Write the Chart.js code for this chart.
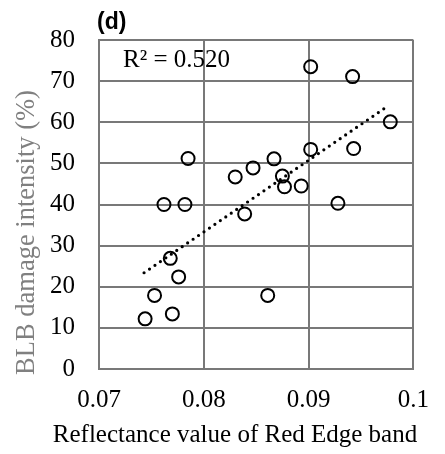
<!DOCTYPE html>
<html>
<head>
<meta charset="utf-8">
<script src="https://cdn.jsdelivr.net/npm/chart.js@4/dist/chart.umd.min.js"></script>
<style>
  html, body { margin: 0; padding: 0; background: #ffffff; }
  #wrap { width: 445px; height: 454px; }
</style>
</head>
<body>
<div id="wrap"><canvas id="c" width="445" height="454"></canvas></div>
<script>
// ---- data ----
const reflectance = [0.0744, 0.0753, 0.0770, 0.0776, 0.0768, 0.0762, 0.0782, 0.0785, 0.0830, 0.0839, 0.0847,
                     0.0861, 0.0867, 0.0875, 0.0877, 0.0893, 0.0902, 0.0902, 0.0928, 0.0942, 0.0943, 0.0978];
const damage      = [12.2, 17.9, 13.4, 22.4, 26.9, 40.0, 40.0, 51.2, 46.7, 37.7, 48.9,
                     17.9, 51.1, 46.9, 44.3, 44.5, 53.4, 73.5, 40.3, 71.1, 53.6, 60.1];
const trendX = [0.0743, 0.0976];
const trendY = [23.4, 64.0];
const xTickLabels = ['0.07', '0.08', '0.09', '0.1'];
const yTickLabels = ['0', '10', '20', '30', '40', '50', '60', '70', '80'];
const panelLabel = '(d)';
const r2Label = 'R² = 0.520';
const xTitle = 'Reflectance value of Red Edge band';
const yTitle = 'BLB damage intensity (%)';

const serif = '"Liberation Serif", "Times New Roman", serif';
const gridColor = '#787878';

const textPlugin = {
  id: 'texts',
  afterDraw(chart) {
    const ctx = chart.ctx;
    ctx.save();
    // panel label
    ctx.fillStyle = '#000000';
    ctx.font = 'bold 23px "Liberation Sans", Arial, sans-serif';
    ctx.textAlign = 'left';
    ctx.textBaseline = 'alphabetic';
    ctx.fillText(panelLabel, 97, 29);
    // R² annotation
    ctx.font = '25px ' + serif;
    ctx.fillText(r2Label, 123, 67);
    // x title
    ctx.textAlign = 'center';
    ctx.fillText(xTitle, 235, 442);
    // y title
    ctx.fillStyle = '#808080';
    ctx.font = '26.5px ' + serif;
    ctx.translate(33.5, 232.5);
    ctx.rotate(-Math.PI / 2);
    ctx.textAlign = 'center';
    ctx.textBaseline = 'alphabetic';
    ctx.fillText(yTitle, 0, 0);
    ctx.restore();
  }
};

new Chart(document.getElementById('c'), {
  type: 'scatter',
  data: {
    datasets: [
      {
        label: 'points',
        data: reflectance.map((x, i) => ({ x: x, y: damage[i] })),
        pointStyle: 'circle',
        pointRadius: 6.5,
        pointHoverRadius: 6.5,
        pointBorderWidth: 2,
        pointBorderColor: '#000000',
        pointBackgroundColor: 'rgba(0,0,0,0)',
        showLine: false,
        order: 2
      },
      {
        label: 'trend',
        data: trendX.map((x, i) => ({ x: x, y: trendY[i] })),
        showLine: true,
        pointRadius: 0,
        borderColor: '#000000',
        borderWidth: 3.2,
        borderDash: [0, 6.6],
        borderCapStyle: 'round',
        fill: false,
        order: 1
      }
    ]
  },
  options: {
    responsive: false,
    animation: false,
    events: [],
    layout: { padding: { top: 40, right: 19, left: 0, bottom: 0 } },
    plugins: { legend: { display: false }, tooltip: { enabled: false }, title: { display: false } },
    scales: {
      x: {
        type: 'linear',
        min: 0.07,
        max: 0.1,
        afterFit(scale) { scale.height = 85; },
        afterBuildTicks(scale) {
          scale.ticks = xTickLabels.map(t => ({ value: parseFloat(t) }));
        },
        ticks: {
          autoSkip: false,
          maxRotation: 0,
          padding: 16,
          color: '#000000',
          font: { family: serif, size: 25 },
          callback: (v, i) => xTickLabels[i]
        },
        grid: { color: gridColor, lineWidth: 2, drawTicks: false },
        border: { display: true, color: gridColor, width: 2 }
      },
      y: {
        type: 'linear',
        min: 0,
        max: 80,
        afterFit(scale) { scale.width = 99; },
        afterBuildTicks(scale) {
          scale.ticks = yTickLabels.map(t => ({ value: parseFloat(t) }));
        },
        ticks: {
          autoSkip: false,
          padding: 24,
          color: '#000000',
          font: { family: serif, size: 25 },
          callback: (v, i) => yTickLabels[i]
        },
        grid: { color: gridColor, lineWidth: 2, drawTicks: false },
        border: { display: true, color: gridColor, width: 2 }
      }
    }
  },
  plugins: [textPlugin]
});
</script>
</body>
</html>
